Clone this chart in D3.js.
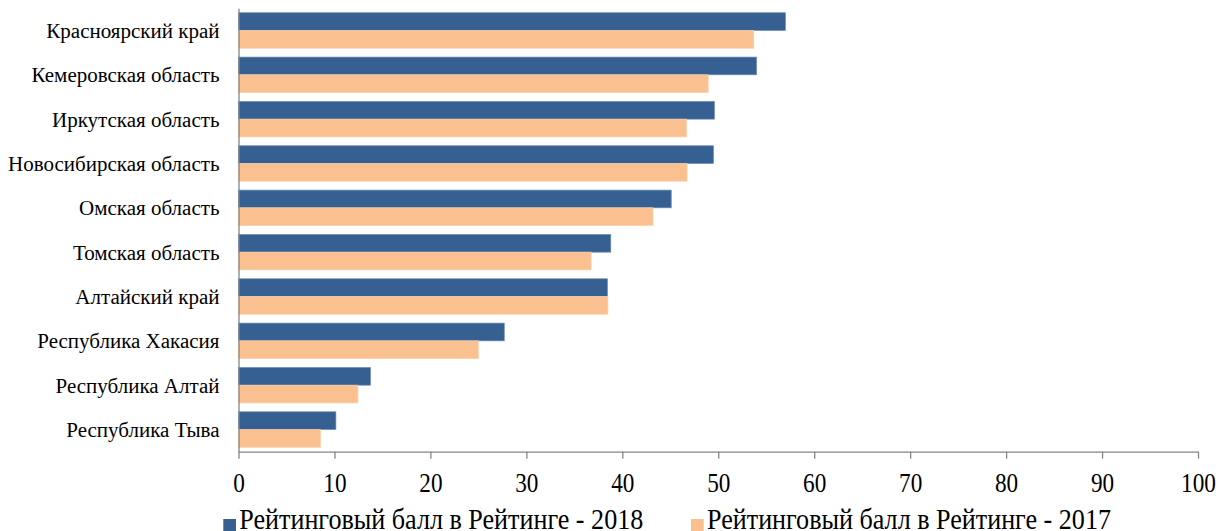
<!DOCTYPE html>
<html><head><meta charset="utf-8">
<script src="https://cdn.jsdelivr.net/npm/d3@7"></script>
<style>body{margin:0;background:#fff;overflow:hidden}</style>
</head><body>
<svg id="c" width="1231" height="531"></svg>
<script>
const categories = ["Красноярский край", "Кемеровская область", "Иркутская область", "Новосибирская область", "Омская область", "Томская область", "Алтайский край", "Республика Хакасия", "Республика Алтай", "Республика Тыва"];
const values2018 = [57.0, 54.0, 49.6, 49.5, 45.1, 38.8, 38.45, 27.7, 13.75, 10.15];
const values2017 = [53.7, 48.95, 46.7, 46.75, 43.2, 36.75, 38.5, 25.0, 12.45, 8.55];
const xTicks = [0, 10, 20, 30, 40, 50, 60, 70, 80, 90, 100];
const seriesNames = ["Рейтинговый балл в Рейтинге - 2018", "Рейтинговый балл в Рейтинге - 2017"];
const seriesColors = ["#376092", "#FAC090"];

const svg = d3.select("#c");
const FONT = "'Liberation Serif','Times New Roman',serif";

const x = d3.scaleLinear().domain([0, 100]).range([238.5, 1198]);
const y = d3.scaleBand().domain(categories).range([8.3, 451.7]).paddingInner(0.2).paddingOuter(0.1);
const sub = d3.scaleBand().domain([0, 1]).range([0, y.bandwidth()]);

const series = [values2018, values2017];

function condense(sel, factor) {
  sel.each(function () {
    const w = this.getComputedTextLength();
    this.setAttribute("textLength", w * factor);
    this.setAttribute("lengthAdjust", "spacingAndGlyphs");
  });
}

// bars
series.forEach((vals, si) => {
  svg.append("g").selectAll("rect").data(categories).join("rect")
    .attr("x", x(0))
    .attr("y", (d) => y(d) + sub(si))
    .attr("width", (d, i) => x(vals[i]) - x(0))
    .attr("height", sub.bandwidth())
    .attr("fill", seriesColors[si])
    .attr("stroke", si === 0 ? "#6f8db5" : "#fbd0ab")
    .attr("stroke-width", 0.7);
});

// x axis
const gx = svg.append("g").attr("transform", `translate(0,${451.7})`)
  .call(d3.axisBottom(x).tickValues(xTicks).tickSize(7).tickSizeOuter(0).tickFormat(d3.format("d")));
gx.select(".domain").attr("stroke", "#868686").attr("stroke-width", 1.3);
gx.selectAll(".tick line").attr("stroke", "#868686").attr("stroke-width", 1.3);
gx.selectAll(".tick text")
  .attr("y", 40).attr("dy", 0)
  .attr("font-family", FONT).attr("font-size", 27).attr("fill", "#000");
condense(gx.selectAll(".tick text"), 0.86);

// y axis
const gy = svg.append("g").attr("transform", `translate(${x(0)},0)`)
  .call(d3.axisLeft(y).tickSize(0).tickPadding(19).tickSizeOuter(0));
gy.select(".domain").attr("stroke", "#868686").attr("stroke-width", 1.3);
gy.selectAll(".tick text")
  .attr("font-family", FONT).attr("font-size", 20).attr("fill", "#000").attr("dy", "0.38em");
condense(gy.selectAll(".tick text"), 1.05);

// legend
const legX = [223.3, 691];
const legend = svg.append("g");
seriesNames.forEach((name, i) => {
  legend.append("rect").attr("x", legX[i]).attr("y", 519).attr("width", 12.7).attr("height", 12.7)
    .attr("fill", seriesColors[i]);
  const t = legend.append("text").attr("x", legX[i] + 16).attr("y", 529)
    .attr("font-family", FONT).attr("font-size", 29).attr("fill", "#000").text(name);
  condense(t, 0.9);
});
</script>
</body></html>
